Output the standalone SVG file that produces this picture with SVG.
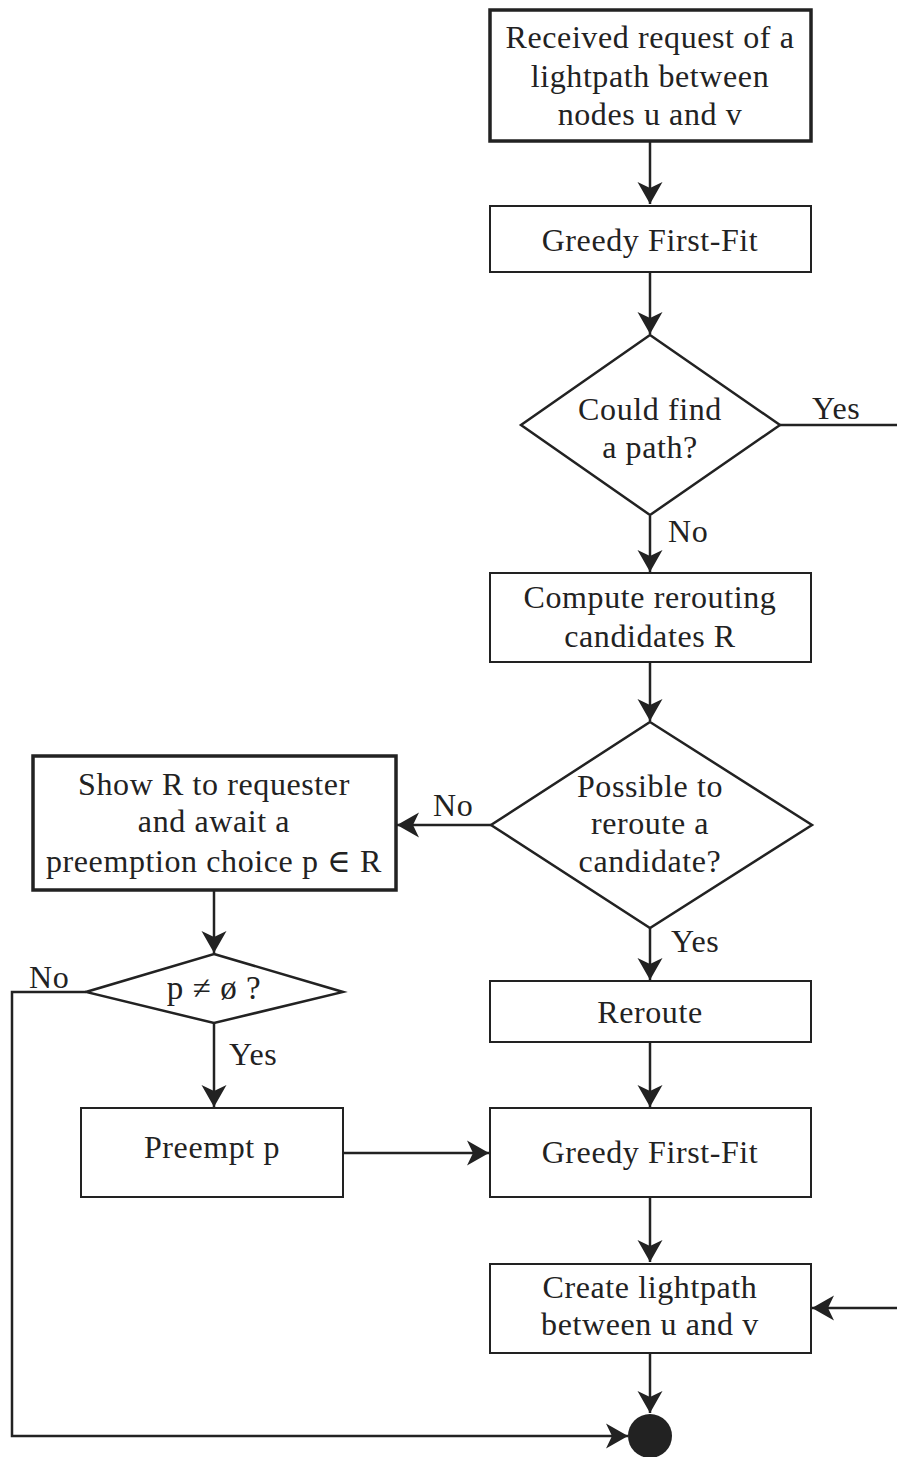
<svg xmlns="http://www.w3.org/2000/svg" width="897" height="1457" viewBox="0 0 897 1457">
<style>
text{font-family:"Liberation Serif","DejaVu Serif",serif;font-size:32px;letter-spacing:0.6px;fill:#222;text-anchor:middle}
.lbl{text-anchor:start}
.box{fill:#fff;stroke:#222;stroke-width:2}
.tbox{fill:#fff;stroke:#222;stroke-width:3.5}
.dia{fill:#fff;stroke:#222;stroke-width:2.5}
.c{fill:none;stroke:#222;stroke-width:2.5}
.a{marker-end:url(#ah)}
</style>
<defs>
<marker id="ah" viewBox="-24 -14 26 28" refX="0" refY="0" markerWidth="26" markerHeight="28" markerUnits="userSpaceOnUse" orient="auto">
<path d="M0,0 L-22,-12.5 L-16,0 L-22,12.5 Z" fill="#222"/>
</marker>
</defs>
<g id="connectors">
<path class="c a" d="M650,141 V204"/>
<path class="c a" d="M650,272 V334"/>
<path class="c" d="M780,425 H897"/>
<path class="c a" d="M650,516 V572"/>
<path class="c a" d="M650,662 V721"/>
<path class="c a" d="M491,825 H397"/>
<path class="c a" d="M650,928 V980"/>
<path class="c a" d="M650,1042 V1107"/>
<path class="c a" d="M214,890 V953"/>
<path class="c a" d="M214,1023 V1107"/>
<path class="c a" d="M343,1153 H489"/>
<path class="c a" d="M650,1197 V1262"/>
<path class="c a" d="M897,1308 H812"/>
<path class="c a" d="M650,1353 V1413"/>
<path class="c a" d="M86,992 H12 V1436 H628"/>
</g>
<g id="labels">
<text class="lbl" x="812" y="419">Yes</text>
<text class="lbl" x="668" y="542">No</text>
<text class="lbl" x="433" y="816">No</text>
<text class="lbl" x="671" y="952">Yes</text>
<text class="lbl" x="29" y="988">No</text>
<text class="lbl" x="229" y="1065">Yes</text>
</g>
<g id="n1">
<rect class="tbox" x="490" y="10" width="321" height="131"/>
<text x="650" y="48">Received request of a</text>
<text x="650" y="87">lightpath between</text>
<text x="650" y="125">nodes u and v</text>
</g>
<g id="n2">
<rect class="box" x="490" y="206" width="321" height="66"/>
<text x="650" y="251">Greedy First-Fit</text>
</g>
<g id="n3">
<polygon class="dia" points="650,335 780,425 650,515 521,425"/>
<text x="650" y="420">Could find</text>
<text x="650" y="458">a path?</text>
</g>
<g id="n4">
<rect class="box" x="490" y="573" width="321" height="89"/>
<text x="650" y="608">Compute rerouting</text>
<text x="650" y="647">candidates R</text>
</g>
<g id="n5">
<polygon class="dia" points="650,722 812,825 650,928 491,825"/>
<text x="650" y="797">Possible to</text>
<text x="650" y="834">reroute a</text>
<text x="650" y="872">candidate?</text>
</g>
<g id="n6">
<rect class="tbox" x="33" y="756" width="363" height="134"/>
<text x="214" y="795">Show R to requester</text>
<text x="214" y="832">and await a</text>
<text x="214" y="872">preemption choice p ∈ R</text>
</g>
<g id="n7">
<polygon class="dia" points="214,954 343,992 214,1023 86,992"/>
<text x="214" y="999" style="font-size:33px">p ≠ ø ?</text>
</g>
<g id="n8">
<rect class="box" x="490" y="981" width="321" height="61"/>
<text x="650" y="1023">Reroute</text>
</g>
<g id="n9">
<rect class="box" x="81" y="1108" width="262" height="89"/>
<text x="212" y="1158">Preempt p</text>
</g>
<g id="n10">
<rect class="box" x="490" y="1108" width="321" height="89"/>
<text x="650" y="1163">Greedy First-Fit</text>
</g>
<g id="n11">
<rect class="box" x="490" y="1264" width="321" height="89"/>
<text x="650" y="1298">Create lightpath</text>
<text x="650" y="1335">between u and v</text>
</g>
<g id="n12">
<circle cx="650" cy="1436" r="22" fill="#222"/>
</g>
</svg>
